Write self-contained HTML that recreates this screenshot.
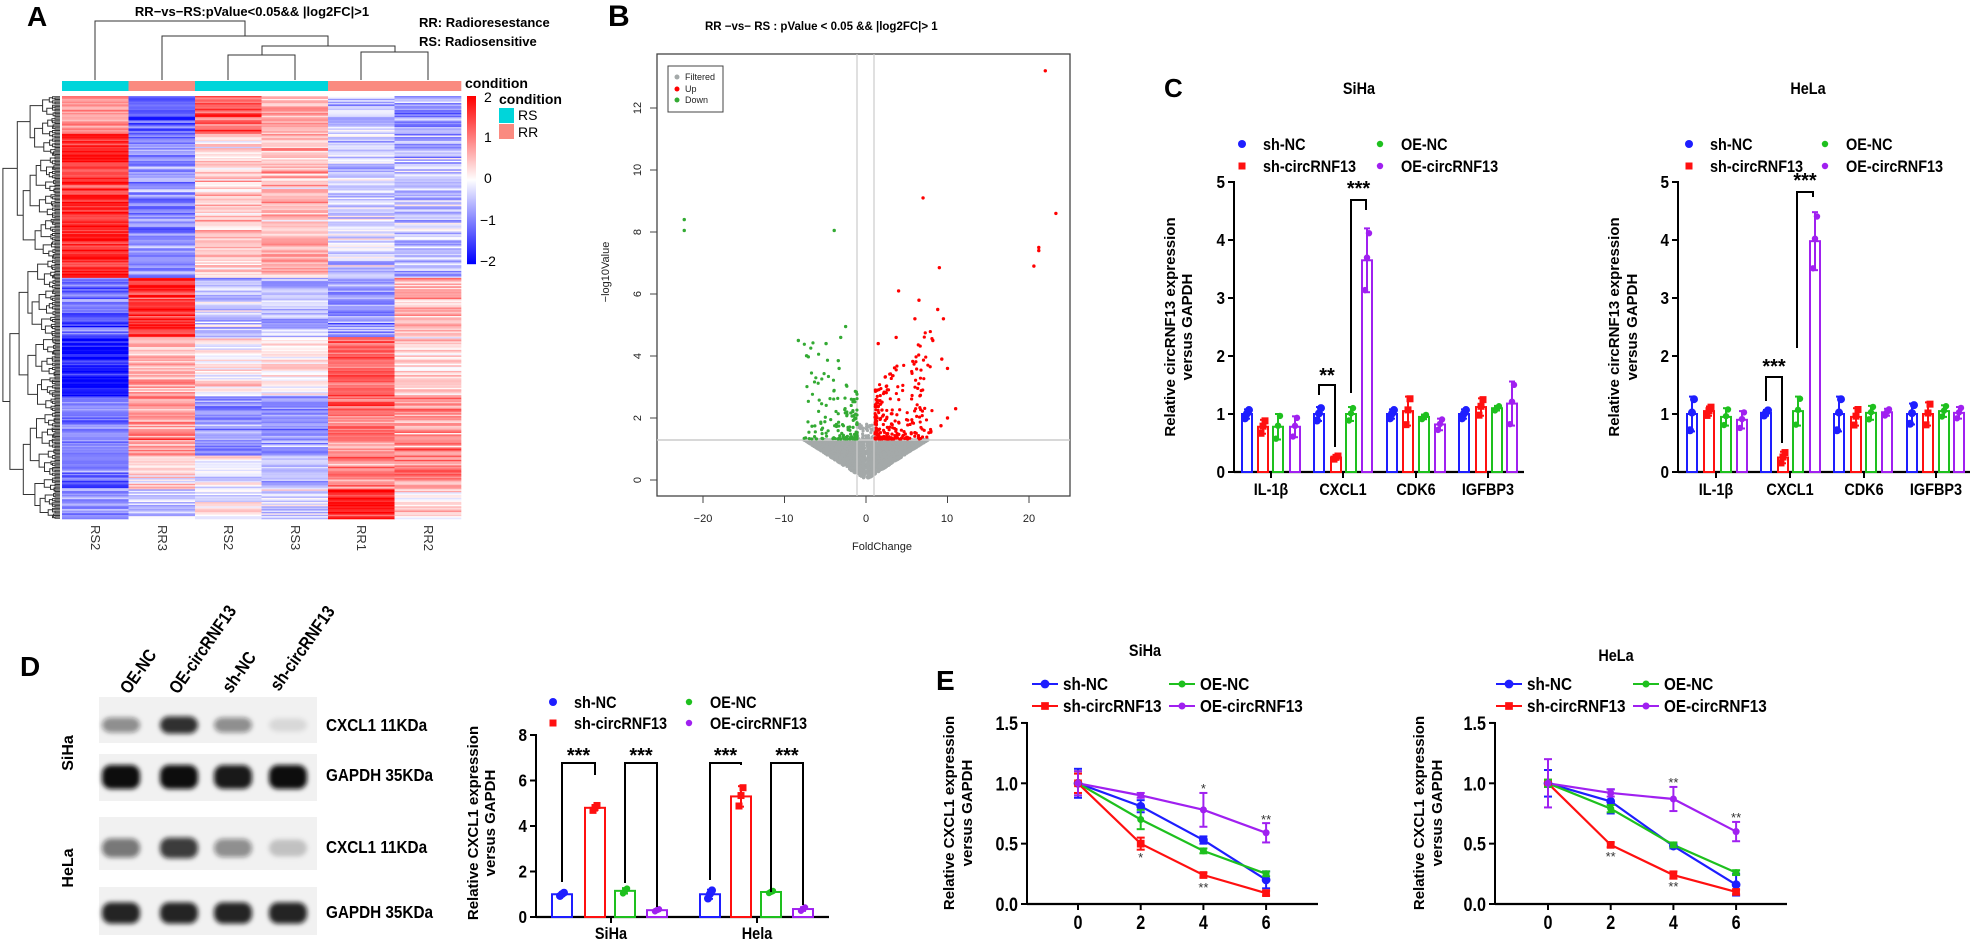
<!DOCTYPE html>
<html><head><meta charset="utf-8">
<style>
html,body{margin:0;padding:0;background:#fff;}
svg{display:block;font-family:"Liberation Sans",sans-serif;}
.b{font-weight:bold;}
.n{font-family:"Liberation Sans Narrow","Liberation Sans",sans-serif;font-weight:bold;}
</style></head>
<body>
<svg id="s" xmlns="http://www.w3.org/2000/svg" width="1975" height="941" viewBox="0 0 1975 941">
<rect width="1975" height="941" fill="#fff"/>
<g id="g"></g>
<text x="27" y="26" font-size="28" class="b">A</text>
<text x="252" y="16" font-size="13" class="b" text-anchor="middle">RR−vs−RS:pValue&lt;0.05&amp;&amp; |log2FC|&gt;1</text>
<text x="419" y="27" font-size="13" class="b">RR: Radioresestance</text>
<text x="419" y="46" font-size="13" class="b">RS: Radiosensitive</text>
<text x="465" y="88" font-size="14" class="b">condition</text>
<text x="499" y="104" font-size="14" class="b">condition</text>
<text x="518" y="120" font-size="14">RS</text>
<text x="518" y="137" font-size="14">RR</text>
<text x="484" y="102" font-size="14">2</text>
<text x="484" y="142" font-size="14">1</text>
<text x="484" y="183" font-size="14">0</text>
<text x="480" y="225" font-size="14">−1</text>
<text x="480" y="266" font-size="14">−2</text>
<g font-size="13" fill="#333">
<text transform="translate(91,525) rotate(90)">RS2</text>
<text transform="translate(158,525) rotate(90)">RR3</text>
<text transform="translate(224,525) rotate(90)">RS2</text>
<text transform="translate(291,525) rotate(90)">RS3</text>
<text transform="translate(357,525) rotate(90)">RR1</text>
<text transform="translate(424,525) rotate(90)">RR2</text>
</g>
<text x="608" y="26" font-size="30" class="b">B</text>
<text x="705" y="30" font-size="11.5" class="b">RR −vs− RS : pValue &lt; 0.05 &amp;&amp; |log2FC|&gt; 1</text>
<g font-size="11" fill="#222" text-anchor="middle">
<text x="703" y="522">−20</text><text x="784" y="522">−10</text><text x="866" y="522">0</text><text x="947" y="522">10</text><text x="1029" y="522">20</text>
<text x="882" y="550">FoldChange</text>
<text transform="translate(641,480) rotate(-90)">0</text>
<text transform="translate(641,418) rotate(-90)">2</text>
<text transform="translate(641,356) rotate(-90)">4</text>
<text transform="translate(641,294) rotate(-90)">6</text>
<text transform="translate(641,232) rotate(-90)">8</text>
<text transform="translate(641,170) rotate(-90)">10</text>
<text transform="translate(641,108) rotate(-90)">12</text>
<text transform="translate(609,272) rotate(-90)">−log10Value</text>
</g>
<g font-size="9" fill="#222"><text x="685" y="80">Filtered</text><text x="685" y="92">Up</text><text x="685" y="103">Down</text></g>
<text x="1164" y="97" font-size="26" class="b">C</text>
<text x="1359" y="94" font-size="17" class="n" text-anchor="middle">SiHa</text>
<text x="1808" y="94" font-size="17" class="n" text-anchor="middle">HeLa</text>
<g font-size="15" class="b" text-anchor="middle">
<text transform="translate(1175,327) rotate(-90)">Relative circRNF13 expression</text>
<text transform="translate(1192,327) rotate(-90)">versus GAPDH</text>
<text transform="translate(1619,327) rotate(-90)">Relative circRNF13 expression</text>
<text transform="translate(1637,327) rotate(-90)">versus GAPDH</text>
<text transform="translate(478,823) rotate(-90)">Relative CXCL1 expression</text>
<text transform="translate(495,823) rotate(-90)">versus GAPDH</text>
<text transform="translate(954,813) rotate(-90)">Relative CXCL1 expression</text>
<text transform="translate(972,813) rotate(-90)">versus GAPDH</text>
<text transform="translate(1424,813) rotate(-90)">Relative CXCL1 expression</text>
<text transform="translate(1442,813) rotate(-90)">versus GAPDH</text>
</g>
<text x="20" y="676" font-size="28" class="b">D</text>
<g font-size="18">
<text class="n" transform="translate(129,695) rotate(-55)">OE-NC</text>
<text class="n" transform="translate(178,695) rotate(-55)">OE-circRNF13</text>
<text class="n" transform="translate(231,694) rotate(-55)">sh-NC</text>
<text class="n" transform="translate(279,692) rotate(-55)">sh-circRNF13</text>
<text class="n" x="326" y="731">CXCL1 11KDa</text>
<text class="n" x="326" y="781">GAPDH 35KDa</text>
<text class="n" x="326" y="853">CXCL1 11KDa</text>
<text class="n" x="326" y="918">GAPDH 35KDa</text>
</g>
<g font-size="16" class="b" text-anchor="middle">
<text transform="translate(73,753) rotate(-90)">SiHa</text>
<text transform="translate(73,868) rotate(-90)">HeLa</text>
</g>
<text x="936" y="690" font-size="28" class="b">E</text>
<text x="1145" y="656" font-size="17" class="n" text-anchor="middle">SiHa</text>
<text x="1616" y="661" font-size="17" class="n" text-anchor="middle">HeLa</text>
</svg>
<script>
var G=document.getElementById('g'),NS='http://www.w3.org/2000/svg';
var seed=12345;function R(){seed=(seed*1103515245+12345)&0x7fffffff;return seed/0x7fffffff;}
function N(){return (R()+R()+R()+R()-2)*1.2;}
function el(t,a,p){var e=document.createElementNS(NS,t);for(var k in a)e.setAttribute(k,a[k]);(p||G).appendChild(e);return e;}
function ln(x1,y1,x2,y2,c,w){return el('line',{x1:x1,y1:y1,x2:x2,y2:y2,stroke:c||'#000','stroke-width':w||1});}
function tx(x,y,s,o){var a={x:x,y:y};for(var k in o)a[k]=o[k];var e=el('text',a);e.textContent=s;return e;}
function hc(v){v=Math.max(-2,Math.min(2,v));var r,g,b;if(v>0){r=255;g=b=Math.round(255*(1-v/2));}else{b=255;r=g=Math.round(255*(1+v/2));}return 'rgb('+r+','+g+','+b+')';}
var blocks=[[0,0.09,[0.8,-1.3,1.2,0.6,-0.4,-0.8]],[0.09,0.43,[1.7,-0.9,0.4,0.5,-0.4,-0.5]],[0.43,0.57,[-1.2,1.6,-0.4,-0.5,-0.8,0.6]],[0.57,0.71,[-1.8,0.6,0.2,0.1,1.2,0.3]],[0.71,0.85,[-1.0,0.8,-0.8,-0.8,1.0,0.9]],[0.85,0.93,[-1.0,0.2,0,-0.4,0.9,0.9]],[0.93,1.01,[-0.8,-0.4,0,-0.2,1.8,0.3]]];
var HX=62,HY=96,HW=399,HH=423,NR=300,cw=HW/6,rh=HH/NR;
for(var i=0;i<NR;i++){var f=i/NR,m;for(var b=0;b<blocks.length;b++)if(f>=blocks[b][0]&&f<blocks[b][1])m=blocks[b][2];
 for(var c=0;c<6;c++){var v=m[c]+N()*0.45;el('rect',{x:HX+c*cw,y:HY+i*rh,width:cw+0.3,height:rh+0.3,fill:hc(v)});}}
var cc=['#00D5DA','#FA8A80','#00D5DA','#00D5DA','#FA8A80','#FA8A80'];
for(var c=0;c<6;c++)el('rect',{x:HX+c*cw,y:81,width:cw+0.3,height:10,fill:cc[c]});
for(var i=0;i<168;i++)el('rect',{x:467,y:96+i,width:9,height:1.2,fill:hc(2-4*i/167)});
el('rect',{x:499,y:108,width:15,height:15,fill:'#00D5DA'});el('rect',{x:499,y:124,width:15,height:15,fill:'#FA8A80'});
function P(d){el('path',{d:d,fill:'none',stroke:'#333','stroke-width':1});}
P('M95 80V21H245V36');P('M162 80V36H328V46');P('M228 80V55H295V80');P('M262 55V46H395V52');P('M361 80V52H428V80');
function dend(lo,hi){if(hi-lo<=1){return {y:HY+(lo+0.5)*rh,x:60};}
 var mid=Math.floor((lo+hi)/2+(R()-0.5)*(hi-lo)*0.3);if(mid<=lo)mid=lo+1;if(mid>=hi)mid=hi-1;
 var a=dend(lo,mid),b=dend(mid,hi);var sz=hi-lo;var x=60-Math.pow(Math.log(sz)/Math.log(NR),1.6)*56-(sz>2?R()*2:0);
 if(sz<=3)x=60-sz*2.5;
 P('M'+a.x+' '+a.y.toFixed(1)+'H'+x.toFixed(1)+'V'+b.y.toFixed(1)+'H'+b.x);return {y:(a.y+b.y)/2,x:x};}
var rt=dend(0,NR);
function VX(f){return 866+f*8.15;}function VY(y){return 480-y*31;}
el('rect',{x:657,y:54,width:413,height:442,fill:'none',stroke:'#444','stroke-width':1.3});
[-20,-10,0,10,20].forEach(function(t){ln(VX(t),496,VX(t),503,'#444',1);});
for(var t=0;t<=12;t+=2)ln(650,VY(t),657,VY(t),'#444',1);
for(var i=0;i<3000;i++){var f=(R()-0.5)*2;f=f*Math.sqrt(Math.abs(f))*7.6;var a=Math.abs(f);var lo=0.17*a;if(a<0.15)continue;var y=lo+R()*(1.3-lo);if(y<lo||y>1.3)continue;
 el('circle',{cx:VX(f),cy:VY(y),r:1.6,fill:'#A4A9A9'});}
for(var i=0;i<40;i++){var f=(R()-0.5)*2.2;el('circle',{cx:VX(f),cy:VY(1.3+R()*0.5),r:1.6,fill:'#A4A9A9'});}
ln(857,54,857,496,'#ccc',1.2);ln(874,54,874,496,'#ccc',1.2);ln(657,440,1070,440,'#ccc',1.5);
for(var i=0;i<150;i++){var a=1.1+Math.pow(R(),1.8)*6.5;var y=1.32+Math.pow(R(),2.2)*(1.2+a*0.3);el('circle',{cx:VX(-a),cy:VY(y),r:1.6,fill:'#33AA33'});}
for(var i=0;i<250;i++){var a=1.1+Math.pow(R(),1.5)*7;var y=1.32+Math.pow(R(),2.2)*(1.3+a*0.3);el('circle',{cx:VX(a),cy:VY(y),r:1.6,fill:'#FF0000'});}
[[-8.3,4.5],[-4.9,4.4],[-3.1,4.6],[-2.5,4.95],[-3.4,3.85],[-3.3,3.6],[-22.3,8.4],[-22.3,8.05],[-3.9,8.05]].forEach(function(p){el('circle',{cx:VX(p[0]),cy:VY(p[1]),r:1.7,fill:'#33AA33'});});
[[22,13.2],[23.3,8.6],[21.2,7.5],[21.2,7.4],[20.6,6.9],[7,9.1],[9,6.85],[4,6.1],[6.5,5.8],[8.8,5.5],[9.5,5.2],[6,5.2],[1.5,4.4],[3.7,4.6],[8.2,4.5],[9.3,3.9],[10,3.6],[11,2.3],[10,2],[9.2,1.75]].forEach(function(p){el('circle',{cx:VX(p[0]),cy:VY(p[1]),r:1.7,fill:'#FF0000'});});
el('rect',{x:668,y:66,width:55,height:46,fill:'#fff',stroke:'#444','stroke-width':1});
el('circle',{cx:677,cy:77,r:2.5,fill:'#A4A9A9'});el('circle',{cx:677,cy:89,r:2.5,fill:'#FF0000'});el('circle',{cx:677,cy:100,r:2.5,fill:'#33AA33'});
var COL=['#1E1EFF','#FF1010','#1EC01E','#A020F0'];
function mk(k,x,y,s){s=s||1;if(k==1)el('rect',{x:x-3.5*s,y:y-3.5*s,width:7*s,height:7*s,fill:COL[1]});else el('circle',{cx:x,cy:y,r:(k==0?4:3.2)*s,fill:COL[k]});}
function legend(x1,x2,y1,y2,line,fs){var xs=[x1,x1,x2,x2],ys=[y1,y2,y1,y2],nm=['sh-NC','sh-circRNF13','OE-NC','OE-circRNF13'];
 for(var k=0;k<4;k++){if(line){ln(xs[k],ys[k],xs[k]+26,ys[k],COL[k],2);mk(k,xs[k]+13,ys[k],1.1);tx(xs[k]+31,ys[k]+6,nm[k],{'font-size':fs||16,'class':'n'});}
 else{mk(k,xs[k],ys[k]);tx(xs[k]+21,ys[k]+6,nm[k],{'font-size':fs||16,'class':'n'});}}}
function bars(ax,ae,y0,u,ymax,step,xs,vals,sds,bw,xt,xl,ly){
 ln(ax,y0-ymax*u-1,ax,y0,'#000',2);ln(ax,y0,ae,y0,'#000',2.2);
 for(var t=0;t<=ymax;t+=step){ln(ax-6,y0-t*u,ax,y0-t*u,'#000',2);tx(ax-9,y0-t*u+6,String(t),{'font-size':18,'class':'n','text-anchor':'end'});}
 for(var g=0;g<xt.length;g++){ln(xt[g],y0,xt[g],y0+6,'#000',2);tx(xt[g],ly,xl[g],{'font-size':17,'class':'n','text-anchor':'middle'});}
 for(var i=0;i<xs.length;i++){var k=i%4,v=vals[i],sd=sds[i],x=xs[i];
  el('rect',{x:x-bw/2,y:y0-v*u,width:bw,height:v*u,fill:'#fff',stroke:COL[k],'stroke-width':2});
  ln(x,y0-(v-sd)*u,x,y0-(v+sd)*u,COL[k],2);ln(x-3,y0-(v+sd)*u,x+3,y0-(v+sd)*u,COL[k],2);ln(x-3,y0-(v-sd)*u,x+3,y0-(v-sd)*u,COL[k],2);
  var off=[-1.1,0.1,1.0];for(var j=0;j<3;j++)mk(k,x+(j-1)*2,y0-(v+off[j]*sd*0.85)*u);}}
function br(x1,x2,y,yl,yr,lab,ty,fs){P('M'+x1+' '+yl+'V'+y+'H'+x2+'V'+yr);tx((x1+x2)/2,ty,lab,{'font-size':fs||20,'class':'b','text-anchor':'middle'});}
P=function(d){el('path',{d:d,fill:'none',stroke:'#000','stroke-width':2});};
legend(1242,1380,144,166,false,17);legend(1689,1825,144,166,false,17);
bars(1234,1524,472,58,5,1,[1247,1263,1278,1295,1319,1336,1351,1367,1392,1408,1424,1440,1464,1481,1497,1512],
 [1.0,0.78,0.78,0.78,1.0,0.25,1.0,3.65,1.0,1.05,0.95,0.82,1.0,1.12,1.1,1.18],[0.08,0.12,0.22,0.18,0.12,0.03,0.12,0.55,0.08,0.25,0.04,0.1,0.08,0.15,0.04,0.38],10,[1271,1343,1416,1488],['IL-1β','CXCL1','CDK6','IGFBP3'],495);
br(1319,1335,385,395,447,'**',382);br(1351,1366,200,393,210,'***',195);
bars(1678,1970,472,58,5,1,[1692,1709,1726,1742,1766,1783,1798,1815,1839,1856,1871,1887,1912,1928,1944,1959],
 [1.0,1.05,0.95,0.9,1.02,0.25,1.05,3.98,1.0,0.95,1.02,1.03,1.0,1.0,1.05,1.02],[0.3,0.08,0.15,0.15,0.05,0.1,0.25,0.5,0.3,0.15,0.12,0.06,0.18,0.2,0.1,0.1],10,[1716,1790,1864,1936],['IL-1β','CXCL1','CDK6','IGFBP3'],495);
br(1766,1782,377,401,443,'***',373);br(1797,1813,192,348,197,'***',187);
var defs=el('defs',{});var flt=el('filter',{id:'bl',x:'-50%',y:'-50%',width:'200%',height:'200%'},defs);el('feGaussianBlur',{stdDeviation:'2.5'},flt);
[[697,743],[754,801],[817,870],[887,935]].forEach(function(s){el('rect',{x:99,y:s[0],width:218,height:s[1]-s[0],fill:'#f1f1f1'});});
var lanes=[121,179,233,288];
var bands=[[725,[0.45,0.85,0.45,0.1],9],[777,[1,1,0.95,1],12],[848,[0.55,0.8,0.45,0.2],11],[913,[0.9,0.9,0.9,0.9],11]];
bands.forEach(function(b){for(var l=0;l<4;l++){var a=b[1][l];el('rect',{x:lanes[l]-19,y:b[0]-b[2]*(0.7+0.3*a),width:38,height:2*b[2]*(0.7+0.3*a),rx:9,fill:'#111','fill-opacity':a,filter:'url(#bl)'});}});
legend(553,689,702,723,false,17);
bars(536,829,917,22.75,8,2,[562,595,625,657,710,741,771,803],[1.0,4.8,1.15,0.3,1.0,5.3,1.1,0.35],[0.08,0.12,0.12,0.05,0.2,0.45,0.05,0.08],20,[611,757],['SiHa','Hela'],939);
br(562,595,763,882,775,'***',762);br(625,657,763,883,907,'***',762);br(710,741,763,880,765,'***',762);br(771,803,763,892,905,'***',762);
function line(ax,ae,x0,dx,y0,u,data,errs,stars){
 ln(ax,y0-1.5*u-1,ax,y0,'#000',2);ln(ax,y0,ae,y0,'#000',2.2);
 [0,0.5,1.0,1.5].forEach(function(t){ln(ax-6,y0-t*u,ax,y0-t*u,'#000',2);tx(ax-9,y0-t*u+7,t.toFixed(1),{'font-size':19,'class':'n','text-anchor':'end'});});
 [0,2,4,6].forEach(function(t,i){ln(x0+i*dx,y0,x0+i*dx,y0+6,'#000',2);tx(x0+i*dx,y0+25,String(t),{'font-size':19,'class':'n','text-anchor':'middle'});});
 for(var k=0;k<4;k++){var d='';for(var i=0;i<4;i++)d+=(i?'L':'M')+(x0+i*dx)+' '+(y0-data[k][i]*u);el('path',{d:d,fill:'none',stroke:COL[k],'stroke-width':2.2});}
 for(var k=0;k<4;k++)for(var i=0;i<4;i++){var x=x0+i*dx,v=data[k][i],e=errs[k][i];ln(x,y0-(v-e)*u,x,y0-(v+e)*u,COL[k],2);ln(x-4,y0-(v+e)*u,x+4,y0-(v+e)*u,COL[k],2);ln(x-4,y0-(v-e)*u,x+4,y0-(v-e)*u,COL[k],2);mk(k,x,y0-v*u,1.1);}
 stars.forEach(function(s){tx(x0+s[0]*dx,s[1],s[2],{'font-size':13,'text-anchor':'middle',fill:'#333'});});}
legend(1032,1169,684,706,true,18);legend(1496,1633,684,706,true,18);
line(1027,1318,1078,62.7,904,120.7,[[1,0.81,0.53,0.2],[1,0.5,0.24,0.09],[1,0.7,0.44,0.25],[1,0.9,0.78,0.59]],[[0.12,0.05,0.03,0.07],[0.08,0.05,0.02,0.02],[0.1,0.08,0.02,0.02],[0.1,0.02,0.14,0.08]],[[1,862,'*'],[2,892,'**'],[2,793,'*'],[3,824,'**']]);
line(1495,1787,1548,62.7,904,120.7,[[1,0.85,0.48,0.16],[1,0.49,0.24,0.1],[1,0.79,0.49,0.26],[1,0.92,0.87,0.6]],[[0.11,0.1,0.02,0.09],[0.03,0.02,0.03,0.02],[0.03,0.03,0.02,0.02],[0.2,0.03,0.1,0.08]],[[1,861,'**'],[2,891,'**'],[2,787,'**'],[3,822,'**']]);
// condense narrow text
var ns=document.querySelectorAll('text.n');
for(var i=0;i<ns.length;i++){var e=ns[i],t=e.getAttribute('transform');
 if(t){e.setAttribute('transform',t+' scale(0.85,1)');}
 else{var x=+e.getAttribute('x'),y=+e.getAttribute('y');e.setAttribute('transform','translate('+x+','+y+') scale(0.85,1) translate('+(-x)+','+(-y)+')');}}
</script>
</body></html>
